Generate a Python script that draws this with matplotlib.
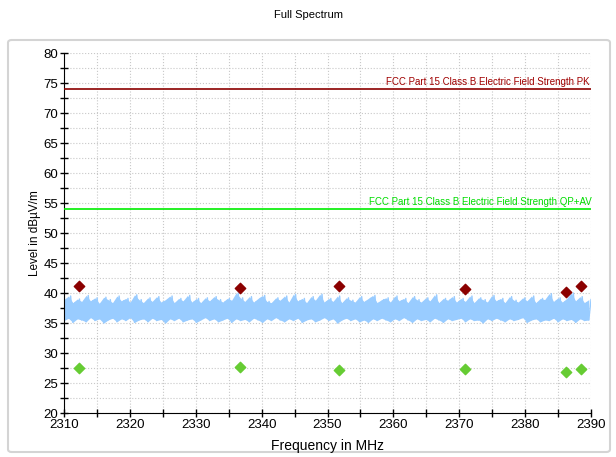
import numpy as np
import matplotlib
matplotlib.use('Agg')
import matplotlib.pyplot as plt
from matplotlib.patches import FancyBboxPatch
from matplotlib.ticker import MultipleLocator

plt.rcParams['font.family'] = ['Liberation Sans', 'DejaVu Sans']

# Spectrum trace envelope (dBuV/m), evenly spaced over 2310-2390 MHz
trace_upper = [
    38.9, 39.5, 38.4, 39.0, 38.6, 39.6, 38.7, 39.2, 38.3, 39.3,
    38.9, 38.4, 39.5, 38.7, 39.1, 38.5, 39.7, 38.9, 38.4, 39.2,
    38.6, 39.4, 38.5, 38.9, 39.5, 38.4, 39.1, 38.7, 39.6, 38.5,
    39.1, 38.4, 39.2, 38.7, 39.4, 38.9, 38.5, 39.1, 38.8, 40.0,
    39.2, 38.6, 39.4, 38.5, 39.1, 39.6, 38.6, 38.4, 39.2, 38.8,
    39.5, 38.5, 39.8, 38.7, 39.1, 38.4, 39.4, 38.8, 39.8, 38.5,
    39.1, 38.6, 39.5, 38.4, 39.2, 38.8, 38.5, 39.4, 38.6, 39.1,
    39.6, 38.4, 38.9, 39.2, 38.5, 39.5, 38.7, 39.1, 38.4, 39.4,
    38.9, 38.5, 39.2, 38.7, 39.7, 38.4, 39.1, 38.8, 39.4, 38.5,
    39.1, 38.6, 39.5, 38.4, 39.2, 38.9, 38.5, 39.6, 38.7, 39.1,
    38.4, 39.4, 38.8, 38.5, 39.2, 38.7, 39.5, 38.4, 39.1, 38.9,
    39.9, 38.6, 39.2, 38.5, 39.1, 40.0, 38.7, 39.4, 38.4, 38.9,
]
trace_lower = [
    35.4, 35.8, 35.1, 35.7, 35.5, 35.2, 35.9, 35.4, 35.7, 35.0,
    35.5, 35.8, 35.2, 35.7, 35.4, 35.9, 35.1, 35.5, 35.7, 35.2,
    35.8, 35.4, 35.6, 35.0, 35.7, 35.4, 35.8, 35.2, 35.5, 35.7,
    35.1, 35.5, 35.9, 35.4, 35.7, 35.2, 35.5, 35.8, 35.1, 35.7,
    35.4, 35.6, 35.2, 35.8, 35.5, 35.1, 35.7, 35.4, 35.9, 35.5,
    35.2, 35.7, 35.4, 35.8, 35.1, 35.5, 35.7, 35.2, 35.5, 35.9,
    35.4, 35.7, 35.0, 35.5, 35.8, 35.4, 35.7, 35.2, 35.5, 35.1,
    35.7, 35.4, 35.8, 35.5, 35.2, 35.7, 35.4, 35.9, 35.5, 35.1,
    35.7, 35.4, 35.6, 35.2, 35.8, 35.5, 35.1, 35.7, 35.4, 35.6,
    35.8, 35.2, 35.7, 35.4, 35.5, 35.0, 35.7, 35.4, 35.8, 35.5,
    35.2, 35.7, 35.4, 35.6, 35.9, 35.1, 35.5, 35.7, 35.2, 35.5,
    35.4, 35.8, 35.2, 35.7, 35.4, 35.6, 35.1, 35.7, 35.4, 35.5,
]

# Measured final values
peak_freq = [2312.3, 2336.7, 2351.7, 2370.9, 2386.2, 2388.5]
peak_level = [41.2, 40.9, 41.2, 40.7, 40.1, 41.1]
avg_freq = [2312.3, 2336.7, 2351.7, 2370.9, 2386.2, 2388.5]
avg_level = [27.5, 27.6, 27.2, 27.3, 26.8, 27.4]

# Limit lines
limit_pk = 74.0
limit_av = 54.0
limit_pk_label = 'FCC Part 15 Class B Electric Field Strength PK'
limit_av_label = 'FCC Part 15 Class B Electric Field Strength QP+AV'

fig = plt.figure(figsize=(6.16, 4.57), dpi=100)

# rounded frame around the plot
frame = FancyBboxPatch((8 / 616, 5 / 457), 602 / 616, 412 / 457,
                       boxstyle='round,pad=0,rounding_size=0.006',
                       transform=fig.transFigure, facecolor='white',
                       edgecolor='#d4d4d4', linewidth=1.5, zorder=0)
fig.patches.append(frame)

ax = fig.add_axes([64 / 616, 44 / 457, 527 / 616, 360 / 457])
ax.set_facecolor('none')
ax.set_zorder(2)

# trace: zigzag between the lower and upper envelope, body filled underneath
n = len(trace_upper)
freq_zz = np.linspace(2310, 2390, 2 * n)
level_zz = np.empty(2 * n)
level_zz[0::2] = trace_lower
level_zz[1::2] = trace_upper
ax.fill_between(freq_zz[0::2], trace_lower, trace_upper,
                color='#99ccff', linewidth=0, zorder=2)
ax.plot(freq_zz, level_zz, color='#99ccff', linewidth=1.0, zorder=2)

ax.axhline(limit_pk, color='#8b0000', linewidth=1.2, zorder=3)
ax.axhline(limit_av, color='#00ee00', linewidth=1.2, zorder=3)
ax.text(2389.8, limit_pk + 0.4, limit_pk_label, color='#a00000',
        fontsize=7, ha='right', va='bottom')
ax.text(2390.1, limit_av + 0.4, limit_av_label, color='#00dd00',
        fontsize=7, ha='right', va='bottom')

ax.scatter(peak_freq, peak_level, marker='D', s=28, color='#8b0000', zorder=4)
ax.scatter(avg_freq, avg_level, marker='D', s=28, color='#66cc33', zorder=4)

ax.set_xlim(2310, 2390)
ax.set_ylim(20, 80)
ax.xaxis.set_major_locator(MultipleLocator(10))
ax.xaxis.set_minor_locator(MultipleLocator(5))
ax.yaxis.set_major_locator(MultipleLocator(5))
ax.yaxis.set_minor_locator(MultipleLocator(2.5))
ax.grid(True, which='both', color='#c8c8c8', linestyle=':', linewidth=0.8)
ax.set_axisbelow(True)

for side in ['top', 'right']:
    ax.spines[side].set_visible(False)
ax.tick_params(which='both', direction='inout', length=6, width=1,
               labelsize=9.5, pad=1)

ax.set_xlabel('Frequency in MHz', fontsize=10, labelpad=6)
ax.set_ylabel('Level in dBµV/m', fontsize=8.5)
ax.yaxis.set_label_coords(-0.043, 0.5)

fig.text(0.5, 0.968, 'Full Spectrum', ha='center', va='center', fontsize=8)

plt.savefig('out.png', dpi=100)
